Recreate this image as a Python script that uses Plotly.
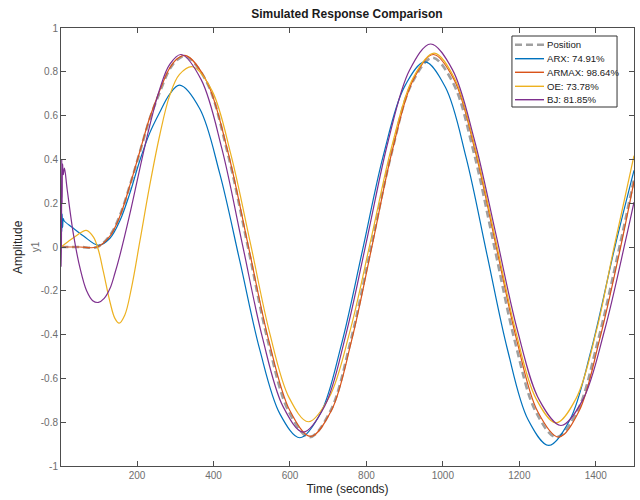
import plotly.graph_objects as go

# ---- data ----
pos_t = [1, 50, 95, 129, 155, 181, 207, 233, 259, 285, 305, 328,
         382, 436, 490, 543, 597, 651,
         705, 758, 812, 866, 919, 973,
         1027, 1081, 1135, 1189, 1243, 1297,
         1351, 1404, 1462, 1500]
pos_y = [0, 0, 0, 0.053, 0.144, 0.28, 0.432, 0.585, 0.705, 0.811, 0.855, 0.87,
         0.754, 0.436, 0.001, -0.434, -0.752, -0.868,
         -0.752, -0.435, -0.002, 0.431, 0.748, 0.864,
         0.748, 0.431, -0.002, -0.435, -0.752, -0.868,
         -0.752, -0.44, 0.0, 0.31]

arx_t = [1, 2, 3, 4, 5, 7, 9, 30, 60, 99, 129, 155, 181, 207, 233, 259, 285, 311,
         364, 416, 469, 521, 574, 626,
         681, 735, 790, 844, 899, 953,
         1007, 1061, 1115, 1169, 1223, 1277,
         1332, 1388, 1450, 1500]
arx_y = [0, 0.16, 0.07, 0.15, 0.09, 0.13, 0.12, 0.09, 0.05, 0.008, 0.04, 0.12, 0.245, 0.394, 0.52, 0.614, 0.697, 0.739,
         0.631, 0.337, -0.066, -0.469, -0.763, -0.871,
         -0.756, -0.442, -0.013, 0.416, 0.73, 0.845,
         0.728, 0.407, -0.031, -0.468, -0.789, -0.906,
         -0.79, -0.47, 0.0, 0.35]

armax_t = [1, 50, 95, 129, 155, 181, 207, 233, 259, 285, 305, 328,
           382, 437, 491, 545, 600, 654,
           708, 761, 815, 868, 922, 975,
           1030, 1084, 1139, 1194, 1248, 1303,
           1356, 1409, 1465, 1500]
armax_y = [0, 0, 0, 0.05, 0.14, 0.28, 0.435, 0.59, 0.713, 0.816, 0.86, 0.874,
           0.757, 0.439, 0.005, -0.43, -0.748, -0.865,
           -0.748, -0.429, 0.007, 0.443, 0.762, 0.879,
           0.762, 0.442, 0.006, -0.431, -0.751, -0.868,
           -0.75, -0.43, 0.0, 0.30]

oe_t = [1, 20, 40, 67, 86, 99, 112, 129, 142, 153, 168, 185, 207, 233, 259, 285, 311, 345,
        396, 446, 497, 547, 598, 648,
        703, 758, 813, 867, 922, 977,
        1030, 1083, 1137, 1190, 1243, 1296,
        1349, 1402, 1448, 1500]
oe_y = [0, 0.025, 0.05, 0.076, 0.045, -0.015, -0.114, -0.25, -0.326, -0.348, -0.31, -0.19, 0.023, 0.28, 0.508, 0.69, 0.788, 0.823,
        0.714, 0.418, 0.013, -0.393, -0.689, -0.798,
        -0.685, -0.377, 0.044, 0.464, 0.772, 0.885,
        0.772, 0.463, 0.041, -0.381, -0.69, -0.803,
        -0.69, -0.38, 0.0, 0.417]

bj_t = [1, 2, 3, 4, 5, 7, 10, 17, 34, 51, 68, 84, 99, 114, 129, 142, 155, 181, 207, 233, 259, 285, 315,
        368, 422, 475, 528, 582, 635,
        691, 746, 802, 857, 913, 968,
        1025, 1082, 1139, 1195, 1252, 1309,
        1366, 1423, 1478, 1500]
bj_y = [-0.09, 0.0, 0.40, 0.2, 0.38, 0.33, 0.36, 0.265, 0.053, -0.098, -0.2, -0.245, -0.253, -0.235, -0.19, -0.12, -0.038, 0.15, 0.356, 0.553, 0.72, 0.833, 0.879,
        0.763, 0.448, 0.017, -0.414, -0.729, -0.845,
        -0.726, -0.402, 0.041, 0.484, 0.808, 0.927,
        0.81, 0.492, 0.056, -0.38, -0.698, -0.815,
        -0.698, -0.38, 0.03, 0.205]

names = ["Position", "ARX: 74.91%", "ARMAX: 98.64%", "OE: 73.78%", "BJ: 81.85%"]
colors = ["#a0a0a0", "#0072BD", "#D95319", "#EDB120", "#7E2F8E"]

x_ticks = [200, 400, 600, 800, 1000, 1200, 1400]
y_ticks = [-1, -0.8, -0.6, -0.4, -0.2, 0, 0.2, 0.4, 0.6, 0.8, 1]
y_tick_text = ["-1", "-0.8", "-0.6", "-0.4", "-0.2", "0", "0.2", "0.4", "0.6", "0.8", "1"]

series = [(pos_t, pos_y), (arx_t, arx_y), (armax_t, armax_y), (oe_t, oe_y), (bj_t, bj_y)]
POS_DASH = "7px,4px"

fig = go.Figure()
for i, ((tt, yy), nm, c) in enumerate(zip(series, names, colors)):
    if i == 0:
        line = dict(color=c, width=2.6, dash=POS_DASH, shape="spline", smoothing=1.0)
    else:
        line = dict(color=c, width=1.2, shape="spline", smoothing=1.0)
    fig.add_trace(go.Scatter(x=tt, y=yy, mode="lines", name=nm, line=line, showlegend=False))

axis_font = dict(family="Liberation Sans, Arial, sans-serif", size=10, color="#6e6e6e")
fig.update_layout(
    width=640, height=500,
    margin=dict(l=61, r=6, t=28, b=34),
    paper_bgcolor="white", plot_bgcolor="white",
    font=dict(family="Liberation Sans, Arial, sans-serif", size=11, color="#262626"),
    title=dict(text="<b>Simulated Response Comparison</b>", x=0.542, xanchor="center",
               y=0.98, yanchor="top", font=dict(size=12, color="#1a1a1a")),
    showlegend=False,
    xaxis=dict(range=[1, 1500], tickvals=x_ticks, ticks="inside", ticklen=5,
               tickcolor="#4d4d4d", showline=True, linecolor="#4d4d4d", linewidth=1,
               mirror="ticks", showgrid=False, zeroline=False, tickfont=axis_font,
               title=dict(text="Time (seconds)", font=dict(size=12, color="#262626"), standoff=4)),
    yaxis=dict(range=[-1, 1], tickvals=y_ticks, ticktext=y_tick_text, ticks="inside", ticklen=5,
               tickcolor="#4d4d4d", showline=True, linecolor="#4d4d4d", linewidth=1,
               mirror="ticks", showgrid=False, zeroline=False, tickfont=axis_font),
)

fig.add_annotation(text="Amplitude", xref="paper", yref="paper", x=-0.075, y=0.5,
                   xanchor="center", yanchor="middle", textangle=-90, showarrow=False,
                   font=dict(size=12, color="#262626"))
fig.add_annotation(text="y1", xref="paper", yref="paper", x=-0.045, y=0.5,
                   xanchor="center", yanchor="middle", textangle=-90, showarrow=False,
                   font=dict(size=10, color="#6e6e6e"))

# ---- compact legend box (paper coordinates) ----
lg_x0, lg_x1, lg_y0, lg_y1 = 0.787, 0.9704, 0.8196, 0.9817
item_y = [0.9619, 0.9299, 0.8989, 0.8669, 0.8363]
sample_x0, sample_x1, text_x = 0.7923, 0.8429, 0.8447
fig.add_shape(type="rect", xref="paper", yref="paper", x0=lg_x0, x1=lg_x1, y0=lg_y0, y1=lg_y1,
              line=dict(color="#333333", width=1), fillcolor="white", layer="above")
for i, (nm, c, yy) in enumerate(zip(names, colors, item_y)):
    ln = dict(color=c, width=2.6 if i == 0 else 1.4)
    if i == 0:
        ln["dash"] = POS_DASH
    fig.add_shape(type="line", xref="paper", yref="paper", x0=sample_x0, x1=sample_x1,
                  y0=yy, y1=yy, line=ln, layer="above")
    fig.add_annotation(text=nm, xref="paper", yref="paper", x=text_x, y=yy,
                       xanchor="left", yanchor="middle", showarrow=False,
                       font=dict(size=9.6, color="#1a1a1a"))

fig.write_html("out.html")
